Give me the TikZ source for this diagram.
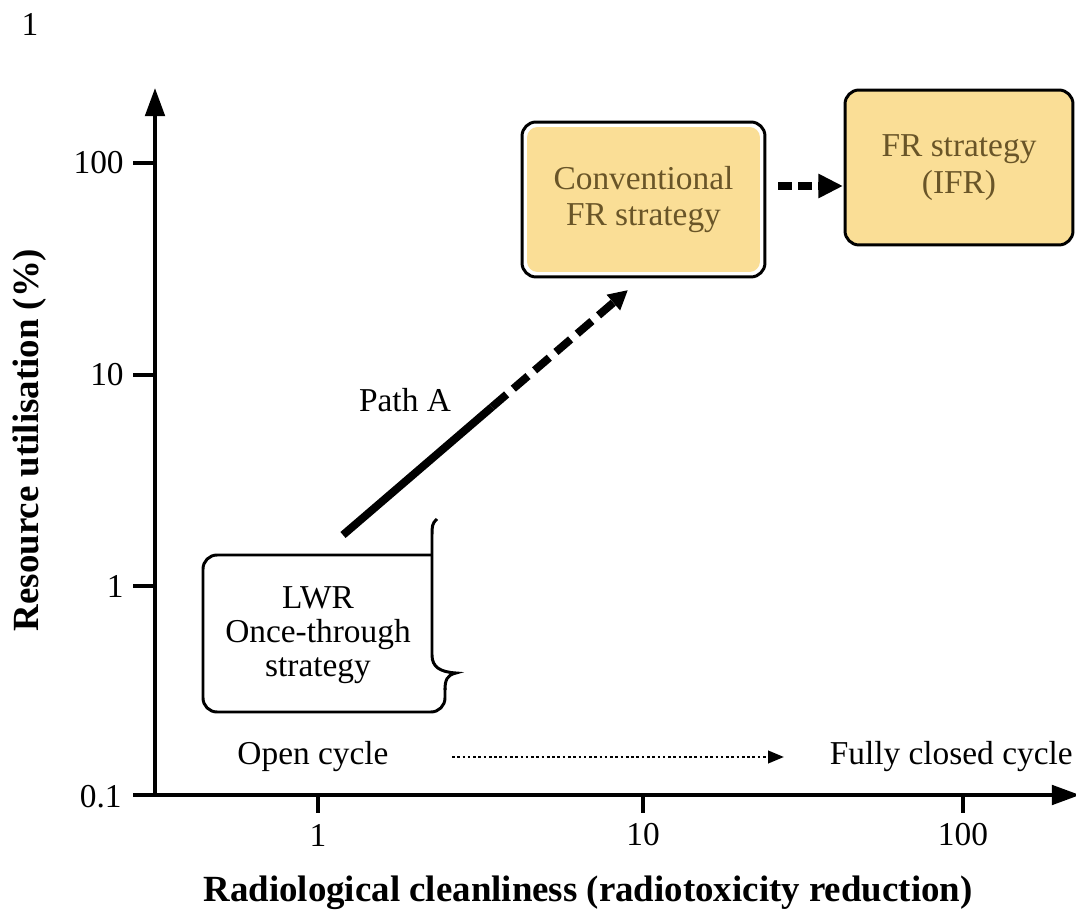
\documentclass[tikz,border=0pt]{standalone}
\usepackage{fontspec}
\setmainfont{Liberation Serif}
\usepackage{tikz}
\usetikzlibrary{arrows.meta,positioning}
\definecolor{boxyellow}{RGB}{250,222,150}
\definecolor{boxtext}{RGB}{105,85,40}

\begin{document}
\begin{tikzpicture}[x=0.02cm, y=-0.02cm, font=\fontsize{19}{21}\selectfont]
\tikzstyle{every node} = [inner sep=0pt, align=center]
\tikzstyle{axis} = [line width=2.3pt, -{Triangle[length=16pt, width=11pt]}]
\tikzstyle{tick} = [line width=2pt]
\tikzstyle{stratbox} = [draw=black, line width=1.7pt, rounded corners=8pt, text=boxtext]
\tikzstyle{axislabel} = [font=\fontsize{21}{23}\selectfont\bfseries]
\useasboundingbox (0,0) rectangle (1076,915);
% axes
\coordinate (o) at (155,795);
\coordinate (ytip) at (155,88);
\coordinate (xstart) at (133,795);
\coordinate (xtip) at (1080,795);
\draw[axis] (o) -- (ytip);
\draw[axis] (xstart) -- (xtip);
\node (corner) at (30,24) {1};
% y ticks
\draw[tick] (133,163) -- (155,163);
\draw[tick] (133,375) -- (155,375);
\draw[tick] (133,586) -- (155,586);
\node[left] (y100) at (124,163) {100};
\node[left] (y10) at (124,375) {10};
\node[left] (y1) at (124,586) {1};
\node[left] (y01) at (122,797) {0.1};
% x ticks
\draw[tick] (318,795) -- (318,813);
\draw[tick] (643,795) -- (643,813);
\draw[tick] (963,795) -- (963,813);
\node (x1) at (318,835) {1};
\node (x10) at (643,835) {10};
\node (x100) at (963,835) {100};
\node[axislabel] (xlabel) at (588,893)
	{Radiological cleanliness (radiotoxicity reduction)};
\node[axislabel, rotate=90] (ylabel) at (30,440)
	{Resource utilisation (\%)};
% strategies
\node[stratbox, fill=white, minimum width=4.86cm, minimum height=3.1cm] (convframe) at (643.5,199.5) {};
\node[rounded corners=6pt, fill=boxyellow, minimum width=4.66cm, minimum height=2.9cm,
	text=boxtext] (conv) at (643.5,199.5) {Conventional\\FR strategy};
\node[stratbox, fill=boxyellow, minimum width=4.56cm, minimum height=3.1cm] (ifr) at (959,167.5)
	{FR strategy\\(IFR)};
\node[font=\fontsize{19}{19.5}\selectfont] (lwr) at (318,635) {LWR\\Once-through\\strategy};
\draw[line width=1.7pt, rounded corners=8pt] (432,555) -- (203,555) -- (203,712) -- (445,712) -- (445,688);
\draw[line width=1.7pt] (437,519) .. controls (432,523) and (432,527) .. (432,535) -- (432,655)
	.. controls (432,667) and (440,672) .. (456,673)
	.. controls (447,675) and (445,680) .. (445,690);
% path A
\coordinate (pa1) at (343,535);
\coordinate (pa2) at (492,407);
\coordinate (pa3) at (628,290);
\draw[line width=4.5pt] (pa1) -- (pa2);
\draw[line width=4.5pt, dash pattern=on 11pt off 5pt, -{Triangle[length=11pt, width=11pt]}] (pa2) -- (pa3);
\node (patha) at (405,400) {Path A};
\coordinate (c1) at (778,186);
\coordinate (c2) at (843,186);
\draw[line width=4.5pt, dash pattern=on 8pt off 3.5pt, -{Triangle[length=14pt, width=13pt]}] (c1) -- (c2);
% cycle
\node (open) at (313,757) {Open cycle};
\node[anchor=east] (closed) at (1073,757) {Fully closed cycle};
\coordinate (d1) at (452,757);
\coordinate (d2) at (784,757);
\draw[line width=1.5pt, dash pattern=on 1.5pt off 1.5pt, -{Triangle[length=9pt, width=7pt]}] (d1) -- (d2);
\end{tikzpicture}
\end{document}
